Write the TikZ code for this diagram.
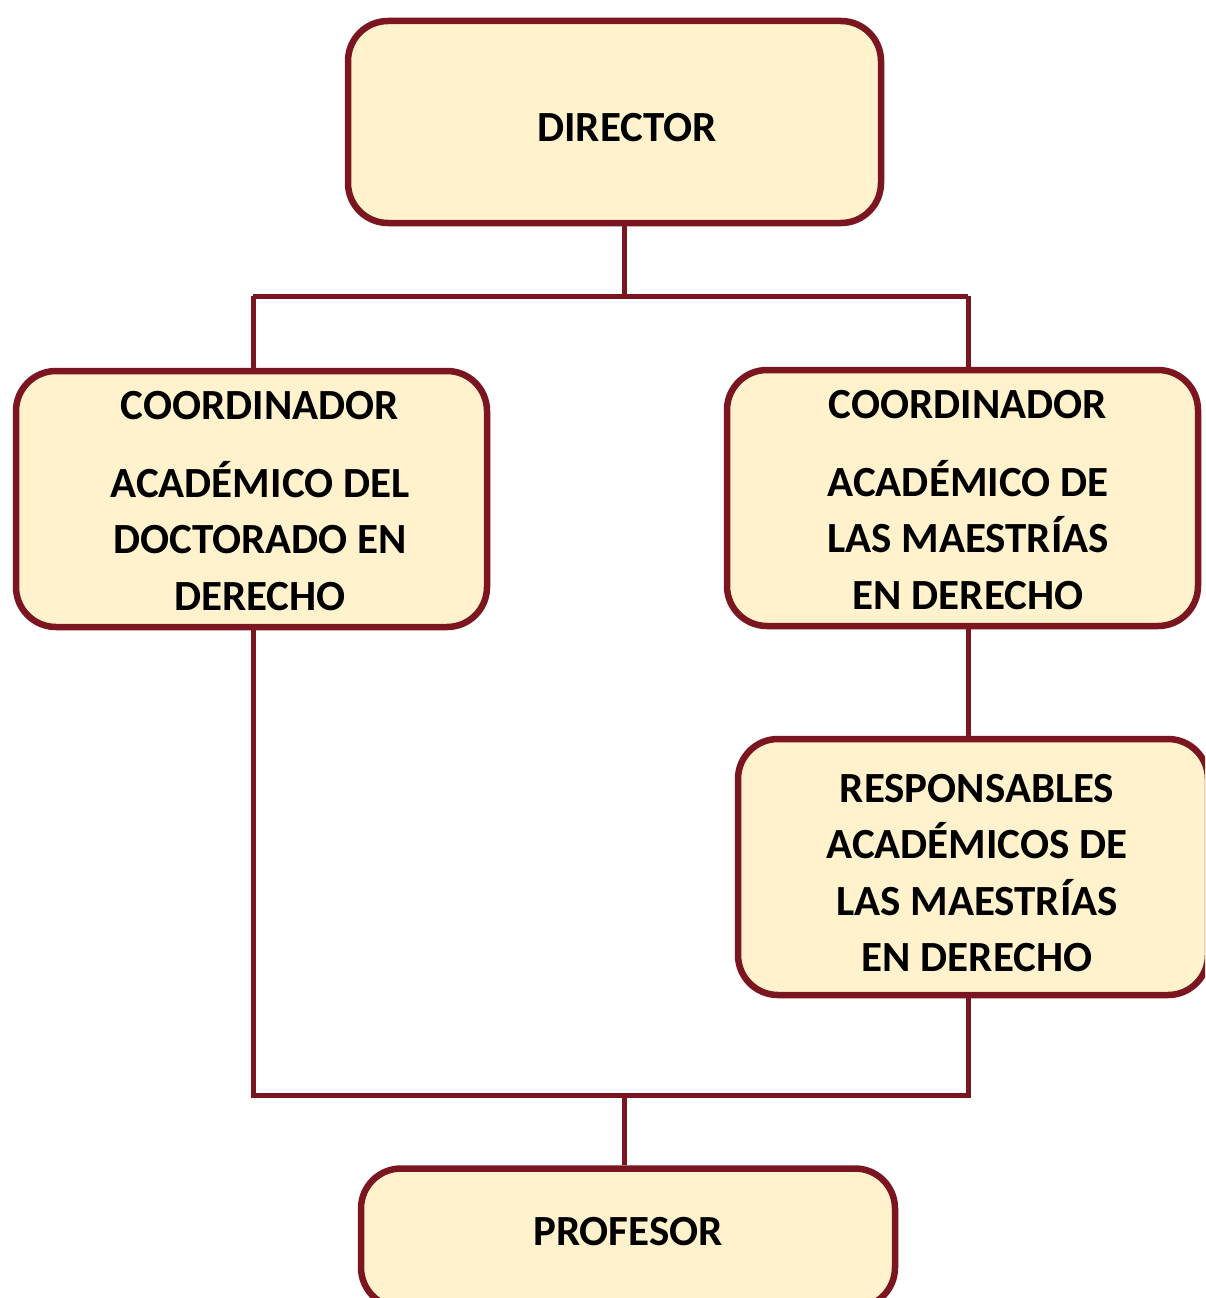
\documentclass[tikz,border=0pt]{standalone}
\usepackage{fontspec}
\setmainfont{Carlito}
\definecolor{bordo}{HTML}{7B1620}
\definecolor{crema}{HTML}{FFF2CC}
\begin{document}
\begin{tikzpicture}[x=1pt,y=-1pt,
  orgbox/.style={draw=bordo,fill=crema,line width=6.5pt,rounded corners=40pt,inner sep=0pt},
  orgtext/.style={inner sep=0pt,align=center,font=\fontsize{43}{56.3}\selectfont\bfseries},
  link/.style={draw=bordo,line width=5pt}]
\clip (0,0) rectangle (1205,1298);
\fill[white] (0,0) rectangle (1205,1298);
\node[orgbox,minimum width=533pt,minimum height=202pt] (dir) at (614.5,122) {};
\node[orgbox,minimum width=471pt,minimum height=256pt] (cd) at (251.5,499) {};
\node[orgbox,minimum width=471pt,minimum height=256pt] (cm) at (962.5,498) {};
\node[orgbox,minimum width=470pt,minimum height=256pt] (rm) at (973,867) {};
\node[orgbox,minimum width=534pt,minimum height=139pt] (prof) at (628,1238) {};
\node[orgtext] (dirt) at (627,128) {DIRECTOR};
\node[orgtext] (cdt) at (260,501) {COORDINADOR\\[21.5pt]ACADÉMICO DEL\\DOCTORADO EN\\DERECHO};
\node[orgtext] (cmt) at (968,500) {COORDINADOR\\[21.5pt]ACADÉMICO DE\\LAS MAESTRÍAS\\EN DERECHO};
\node[orgtext] (rmt) at (977,873) {RESPONSABLES\\ACADÉMICOS DE\\LAS MAESTRÍAS\\EN DERECHO};
\node[orgtext] (proft) at (628,1232) {PROFESOR};
\coordinate (t0) at (624,296);
\coordinate (tl) at (253,296);
\coordinate (tr) at (968,296);
\coordinate (b0) at (624,1095);
\coordinate (bl) at (253,1095);
\coordinate (br) at (968,1095);
\path[link] (dir.south -| t0) -- (t0);
\path[link] (tl) -- (tr);
\path[link] (tl) -- (tl |- cd.north);
\path[link] (tr) -- (tr |- cm.north);
\path[link] (cd.south -| bl) -- (bl) -- (br) -- (rm.south -| br);
\path[link] (cm.south -| tr) -- (rm.north -| tr);
\path[link] (b0) -- (prof.north -| b0);
\end{tikzpicture}
\end{document}
